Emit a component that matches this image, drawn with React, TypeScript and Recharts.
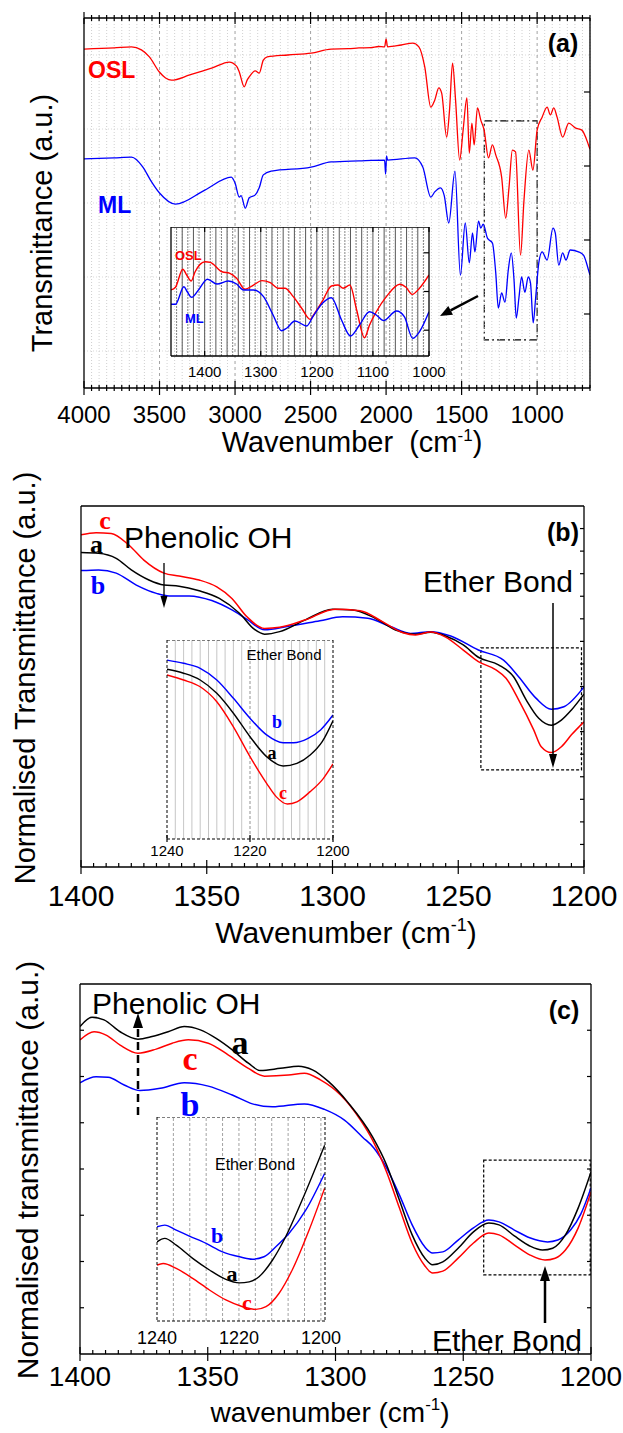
import { LineChart, Line, XAxis, YAxis, ReferenceLine, ReferenceArea } from 'recharts';

const SANS = "'Liberation Sans', Arial, Helvetica, sans-serif";
const SERIF = "'Liberation Serif', 'Times New Roman', Times, serif";
const RED = '#ff0000';
const BLUE = '#0000ff';
const BLACK = '#000000';

// ---- panel (a): full FTIR spectra, [wavenumber, transmittance a.u.]
const oslA = [
  [4000, 91.6], [3800, 91.9], [3686, 92.2], [3620, 91.4], [3567, 89.5], [3501, 85.4], [3460, 83.8], [3421, 83.2],
  [3300, 84.6], [3150, 86.5], [3038, 88.1], [2990, 87.0], [2972, 85.4], [2939, 81.4], [2920, 83.2], [2906, 84.1],
  [2866, 85.7], [2840, 85.1], [2813, 88.6], [2787, 89.5], [2650, 90.0], [2496, 90.5], [2364, 91.6], [2250, 91.7],
  [2180, 91.9], [2100, 92.0], [2050, 92.3], [2010, 92.2], [2000, 94.3], [1990, 92.2], [1900, 92.7], [1823, 93.2],
  [1783, 92.2], [1744, 86.8], [1704, 75.9], [1678, 77.8], [1651, 81.1], [1632, 79.7], [1599, 67.8], [1580, 75.1],
  [1560, 87.8], [1540, 77.8], [1513, 61.6], [1490, 69.7], [1465, 78.4], [1449, 63.5], [1432, 71.6], [1417, 65.7],
  [1395, 75.7], [1373, 72.4], [1351, 69.7], [1322, 62.2], [1296, 65.7], [1274, 63.0], [1235, 57.0], [1208, 45.9],
  [1186, 54.3], [1164, 64.3], [1143, 63.8], [1110, 35.9], [1087, 50.8], [1055, 64.3], [1028, 58.9], [1000, 69.7],
  [967, 73.2], [934, 75.9], [912, 73.8], [890, 75.7], [868, 73.2], [831, 67.8], [791, 71.6], [748, 70.3],
  [704, 69.7], [660, 65.7], [650, 64.5],
];
const mlA = [
  [4000, 61.9], [3800, 62.2], [3686, 62.4], [3610, 59.7], [3560, 56.2], [3500, 52.7], [3394, 49.7], [3200, 53.5],
  [3025, 57.0], [3000, 55.4], [2972, 51.6], [2960, 52.0], [2932, 48.6], [2906, 51.4], [2866, 52.2], [2840, 54.1],
  [2813, 57.6], [2761, 58.6], [2497, 59.7], [2364, 61.1], [2180, 61.4], [2010, 61.6], [2003, 57.8], [1997, 62.7],
  [1990, 61.6], [1810, 62.2], [1757, 59.7], [1704, 51.6], [1678, 53.0], [1640, 54.1], [1615, 52.0], [1585, 44.6],
  [1544, 58.6], [1508, 30.5], [1476, 44.6], [1449, 33.8], [1428, 41.9], [1412, 36.8], [1388, 45.1], [1373, 43.2],
  [1357, 44.3], [1329, 40.5], [1296, 39.2], [1274, 31.1], [1257, 21.6], [1235, 25.7], [1213, 23.2], [1191, 31.9],
  [1171, 36.5], [1153, 29.2], [1138, 18.9], [1120, 24.6], [1103, 30.0], [1081, 25.9], [1059, 30.0], [1044, 28.4],
  [1026, 17.6], [1011, 23.8], [989, 33.8], [967, 36.8], [934, 34.6], [895, 43.2], [880, 41.9], [857, 33.2],
  [831, 36.5], [809, 34.6], [781, 37.3], [726, 36.8], [693, 35.9], [660, 31.9], [650, 30.5],
];
const oslInset = [
  [1460, 51.2], [1452, 53.3], [1439, 67.2], [1432, 62.8], [1424, 58.1], [1417, 65.3], [1399, 73.1], [1390, 72.6],
  [1369, 65.3], [1355, 64.1], [1343, 60.2], [1328, 51.7], [1313, 55.0], [1298, 58.4], [1283, 56.8], [1269, 52.5],
  [1257, 52.5], [1242, 46.0], [1227, 37.0], [1212, 28.4], [1204, 33.1], [1189, 43.4], [1174, 54.3], [1162, 55.0],
  [1153, 52.5], [1141, 55.0], [1129, 35.7], [1115, 14.2], [1106, 24.0], [1094, 34.3], [1076, 46.0], [1052, 55.6],
  [1041, 53.3], [1030, 47.8], [1017, 52.5], [1000, 62.8],
];
const mlInset = [
  [1460, 40.1], [1452, 40.1], [1437, 53.7], [1431, 49.8], [1423, 45.5], [1411, 51.2], [1395, 59.5], [1378, 55.8],
  [1358, 58.1], [1343, 55.8], [1331, 51.2], [1313, 51.2], [1295, 46.0], [1278, 31.8], [1263, 19.6], [1254, 21.5],
  [1239, 27.1], [1218, 23.3], [1207, 30.5], [1190, 40.9], [1174, 45.2], [1156, 27.9], [1140, 15.5], [1124, 24.0],
  [1106, 34.3], [1094, 31.8], [1081, 27.4], [1058, 34.9], [1044, 30.5], [1029, 13.7], [1017, 18.8], [1000, 34.3],
];

// ---- panel (b): normalised spectra a / b / c, 1400-1200
const redB = [
  [1400, 92.0], [1394, 92.6], [1388, 92.4], [1381, 89.2], [1375, 85.0], [1367, 81.4], [1361, 80.6], [1353, 79.5],
  [1346, 77.6], [1340, 74.4], [1334, 69.3], [1327, 66.1], [1321, 66.4], [1311, 68.4], [1299, 71.4], [1289, 71.0],
  [1280, 67.9], [1272, 64.9], [1267, 64.3], [1261, 65.1], [1255, 63.7], [1248, 60.1], [1242, 56.9], [1235, 54.6],
  [1231, 52.3], [1226, 46.3], [1220, 38.0], [1217, 33.3], [1213, 31.7], [1209, 33.3], [1205, 36.6], [1200, 40.2],
];
const blackB = [
  [1400, 87.1], [1393, 86.9], [1386, 85.5], [1380, 82.3], [1373, 79.5], [1367, 78.1], [1361, 77.8], [1353, 76.5],
  [1345, 74.4], [1337, 70.3], [1331, 65.8], [1327, 64.5], [1321, 65.2], [1311, 68.4], [1300, 71.4], [1292, 71.2],
  [1283, 68.9], [1274, 65.4], [1267, 64.5], [1261, 65.0], [1255, 64.0], [1248, 61.5], [1242, 58.1], [1234, 56.0],
  [1228, 52.7], [1223, 46.3], [1218, 41.2], [1213, 39.3], [1209, 40.7], [1205, 43.5], [1200, 47.9],
];
const blueB = [
  [1400, 82.1], [1393, 82.3], [1386, 81.4], [1378, 78.1], [1370, 75.8], [1365, 75.1], [1357, 75.1], [1348, 73.8],
  [1340, 71.2], [1334, 68.6], [1327, 65.7], [1318, 66.6], [1305, 68.2], [1296, 69.3], [1286, 68.9], [1277, 66.6],
  [1269, 64.7], [1261, 65.2], [1253, 64.0], [1242, 60.1], [1232, 57.3], [1226, 52.7], [1219, 46.7], [1213, 43.7],
  [1208, 44.4], [1200, 49.9],
];
const blueBInset = [
  [1240, 89.9], [1236, 88.3], [1232, 85.8], [1228, 79.9], [1224, 70.7], [1220, 60.7], [1216, 52.3], [1212, 48.4],
  [1209.5, 48.4], [1206, 50.6], [1203, 54.8], [1200, 62.3],
];
const blackBInset = [
  [1240, 85.3], [1236, 83.3], [1232, 79.9], [1228, 73.2], [1224, 63.2], [1220, 51.4], [1216, 41.4], [1212, 36.7],
  [1208.7, 38.0], [1205.5, 42.2], [1202.6, 48.9], [1200, 59.4],
];
const redBInset = [
  [1240, 82.4], [1236, 79.9], [1232, 76.5], [1228, 69.0], [1224, 56.4], [1220, 41.4], [1216, 28.0], [1213.7, 21.3],
  [1211, 17.6], [1208.7, 18.7], [1205.5, 23.8], [1202.3, 30.5], [1200, 37.7],
];

// ---- panel (c)
const blackC = [
  [1400, 88.5], [1395.3, 91.0], [1390.6, 90.3], [1384.3, 87.1], [1377.3, 85.1], [1371.8, 85.8], [1365.5, 87.1],
  [1359.2, 88.5], [1352.9, 87.6], [1346.7, 85.3], [1340.4, 82.2], [1334.1, 78.6], [1329.4, 76.6], [1321.6, 77.2],
  [1314.5, 77.8], [1309, 76.8], [1302.7, 73.6], [1294.9, 67.8], [1285.5, 58.7], [1280, 51.1], [1275, 41.6],
  [1270, 32.2], [1265, 25.9], [1262, 24.1], [1258, 24.9], [1252, 28.6], [1246, 33.0], [1240, 35.4], [1236, 34.9],
  [1230, 31.9], [1224, 29.2], [1219, 28.1], [1215, 28.6], [1210, 32.2], [1205, 39.5], [1200, 49.2],
];
const redC = [
  [1400, 84.9], [1394.5, 87.1], [1389.8, 86.2], [1384.3, 83.5], [1377.3, 81.3], [1370.2, 82.4], [1363.9, 84.0],
  [1357.6, 84.9], [1349.8, 84.0], [1341.9, 80.8], [1334.1, 77.2], [1327.8, 75.1], [1318.4, 75.4], [1312.2, 75.9],
  [1305.9, 74.1], [1298, 70.0], [1290.2, 63.2], [1285.5, 57.8], [1280, 49.2], [1275, 39.5], [1270, 30.0],
  [1265, 23.8], [1262, 21.9], [1258, 22.4], [1252, 25.9], [1246, 30.0], [1240, 32.7], [1236, 32.2], [1230, 29.5],
  [1224, 26.8], [1218, 25.4], [1214, 25.9], [1210, 28.1], [1205, 34.1], [1200, 43.8],
];
const blueC = [
  [1400, 73.3], [1393.7, 74.9], [1389, 74.8], [1382.7, 72.7], [1376.5, 71.2], [1368.6, 71.8], [1359.2, 73.3],
  [1349.8, 72.4], [1340.4, 70.0], [1332.5, 67.6], [1324.7, 66.8], [1312.2, 67.6], [1304.3, 66.1], [1296.5, 63.2],
  [1289.4, 58.6], [1285, 55.7], [1280, 50.3], [1275, 43.0], [1270, 34.9], [1265, 28.9], [1262, 27.3], [1258, 27.6],
  [1252, 30.8], [1246, 34.1], [1240, 36.2], [1236, 35.7], [1230, 33.5], [1224, 31.4], [1217, 30.3], [1213, 30.8],
  [1208, 33.5], [1204, 37.8], [1200, 44.9],
];
const blueCInset = [
  [1240, 46.2], [1238.1, 47.0], [1235.3, 44.5], [1232.1, 41.6], [1228, 38.0], [1224, 33.9], [1219.9, 31.5],
  [1216.7, 30.3], [1213.9, 31.5], [1211, 36.4], [1207.8, 42.9], [1203.7, 54.3], [1199.1, 72.3],
];
const blackCInset = [
  [1240, 38.8], [1238.1, 40.5], [1235.3, 37.2], [1231.3, 30.7], [1227.2, 25.0], [1223.2, 20.4], [1219.9, 18.7],
  [1217.5, 19.2], [1215.1, 21.7], [1211.8, 29.9], [1208.6, 41.3], [1204.6, 59.2], [1199.1, 86.1],
];
const redCInset = [
  [1240, 27.4], [1238.5, 28.2], [1235.3, 25.8], [1231.3, 20.9], [1227.2, 15.2], [1223.2, 10.3], [1219.1, 7.0],
  [1215.9, 5.7], [1213.4, 7.0], [1210.2, 13.6], [1207, 25.0], [1202.9, 44.5], [1199.1, 65.0],
];

// ---- ticks
const majorsA = [4000, 3500, 3000, 2500, 2000, 1500, 1000];
const majorsBC = [1400, 1350, 1300, 1250, 1200];
const insetATicks = [1400, 1300, 1200, 1100, 1000];
const insetBCTicks = [1240, 1220, 1200];

const range = (from: number, to: number, step: number) => {
  const out: number[] = [];
  for (let v = from; v >= to - 1e-9; v -= step) out.push(Math.round(v * 1000) / 1000);
  return out;
};
const minorA = range(4000, 650, 50);
const minorBC = range(1400, 1200, 5);
const pts = (a: number[][]) => a.map(([w, v]) => ({ w, v }));

const frame = { stroke: BLACK, strokeWidth: 1.3 };
const dashFrame = { stroke: BLACK, strokeWidth: 1, strokeDasharray: '3 2' };

type XT = { majors: number[]; top?: boolean; majIn: number; majOut: number; minIn: number; minOut: number; fs?: number; off?: number };
const xTick = (o: XT) => (p: any) => {
  const v = p.payload.value;
  const major = o.majors.includes(v);
  const a = major ? o.majIn : o.minIn;
  const b = major ? o.majOut : o.minOut;
  const s = o.top ? 1 : -1;
  return (
    <g>
      {a + b > 0 && <line x1={p.x} x2={p.x} y1={p.y + s * a} y2={p.y - s * b} stroke={BLACK} strokeWidth={1.2} />}
      {major && o.fs && (
        <text x={p.x} y={p.y + (o.off ?? 0) + o.fs * 0.35} textAnchor="middle" fontSize={o.fs} fontFamily={SANS} fill={BLACK}>
          {v}
        </text>
      )}
    </g>
  );
};
const yTick = (len: number, right: boolean) => (p: any) => (
  <line x1={p.x} x2={p.x + (right ? -len : len)} y1={p.y} y2={p.y} stroke={BLACK} strokeWidth={1.2} />
);

// axes are 1px thick (a 0px axis is not drawn), margins are reduced by that pixel
const xBase = { type: 'number' as const, dataKey: 'w', reversed: true, allowDataOverflow: true, interval: 0 as const, tickLine: false, tickSize: 0, tickMargin: 0, height: 1 };
const yBase = { type: 'number' as const, domain: [0, 100], allowDataOverflow: true, interval: 0 as const, tickLine: false, tickSize: 0, tickMargin: 0, width: 1 };

const line = (data: number[][], color: string, w: number, key: string) => (
  <Line key={key} data={pts(data)} dataKey="v" type="monotone" stroke={color} strokeWidth={w} dot={false} isAnimationActive={false} />
);

function Arrow({ x1, y1, x2, y2, w = 1.5, head = 12, half = 4, dash }: { x1: number; y1: number; x2: number; y2: number; w?: number; head?: number; half?: number; dash?: string }) {
  const dx = x2 - x1;
  const dy = y2 - y1;
  const L = Math.hypot(dx, dy);
  const ux = dx / L;
  const uy = dy / L;
  const bx = x2 - ux * head;
  const by = y2 - uy * head;
  const px = -uy * half;
  const py = ux * half;
  return (
    <g>
      <line x1={x1} y1={y1} x2={bx} y2={by} stroke={BLACK} strokeWidth={w} strokeDasharray={dash} />
      <polygon points={`${x2},${y2} ${bx + px},${by + py} ${bx - px},${by - py}`} fill={BLACK} />
    </g>
  );
}

function Txt({ x, y, fs, children, anchor = 'start', bold, color = BLACK, family = SANS, rotate }: any) {
  if (rotate) {
    return (
      <text transform={`translate(${x},${y}) rotate(-90)`} y={fs * 0.35} textAnchor="middle" fontSize={fs} fontFamily={family} fill={color} fontWeight={bold ? 'bold' : 'normal'}>
        {children}
      </text>
    );
  }
  return (
    <text x={x} y={y + fs * 0.35} textAnchor={anchor} fontSize={fs} fontFamily={family} fill={color} fontWeight={bold ? 'bold' : 'normal'} style={{ whiteSpace: 'pre' }}>
      {children}
    </text>
  );
}

function PanelA() {
  return (
    <LineChart width={623} height={470} margin={{ top: 17, right: 32, bottom: 81, left: 83 }}>
      <XAxis {...xBase} domain={[650, 4000]} ticks={minorA} axisLine={frame}
        tick={xTick({ majors: majorsA, majIn: 7, majOut: 7, minIn: 3, minOut: 3, fs: 24, off: 27 })} />
      <XAxis {...xBase} xAxisId="t" orientation="top" domain={[650, 4000]} ticks={minorA} axisLine={frame}
        tick={xTick({ majors: majorsA, top: true, majIn: 6, majOut: 6, minIn: 3, minOut: 3 })} />
      <YAxis {...yBase} tick={false} axisLine={frame} />
      <YAxis {...yBase} yAxisId="r" orientation="right" ticks={[20, 40, 60, 80]} axisLine={frame} tick={yTick(6, true)} />
      {minorA.filter((v) => !majorsA.includes(v) && v !== 4000).map((v) => (
        <ReferenceLine key={`m${v}`} x={v} stroke="#c4c4c4" strokeWidth={0.8} strokeDasharray="1 2" />
      ))}
      {[10, 30, 50, 70, 90].map((v) => (
        <ReferenceLine key={`h${v}`} y={v} stroke="#cfcfcf" strokeWidth={0.8} strokeDasharray="1 2" />
      ))}
      {majorsA.slice(1).map((v) => (
        <ReferenceLine key={`M${v}`} x={v} stroke="#8a8a8a" strokeWidth={0.8} strokeDasharray="3 3" />
      ))}
      <ReferenceArea x1={1350} x2={1000} y1={13} y2={72.2} fill="none" stroke={BLACK} strokeWidth={1.1} strokeDasharray="8 3 2 3" />
      {line(oslA, RED, 1.3, 'osl')}
      {line(mlA, BLUE, 1.3, 'ml')}
    </LineChart>
  );
}

// insets get 20px of side room so their end tick labels are not cut off
function InsetA() {
  const grid = range(1450, 1010, 10);
  return (
    <LineChart width={298} height={159} margin={{ top: -1, right: 19, bottom: 29, left: 19 }}>
      <XAxis {...xBase} domain={[1000, 1460]} ticks={insetATicks} axisLine={frame}
        tick={xTick({ majors: insetATicks, majIn: 5, majOut: 0, minIn: 0, minOut: 0, fs: 15, off: 16 })} />
      <XAxis {...xBase} xAxisId="t" orientation="top" domain={[1000, 1460]} ticks={insetATicks} axisLine={frame}
        tick={xTick({ majors: insetATicks, top: true, majIn: 5, majOut: 0, minIn: 0, minOut: 0 })} />
      <YAxis {...yBase} tick={false} axisLine={frame} />
      <YAxis {...yBase} yAxisId="r" orientation="right" ticks={[20, 50, 80]} axisLine={frame} tick={yTick(5, true)} />
      {grid.map((v) => (
        <ReferenceLine key={v} x={v} stroke={v % 20 === 0 ? '#444' : '#777'} strokeWidth={0.9} strokeDasharray={v % 20 === 0 ? undefined : '2 1'} />
      ))}
      {line(oslInset, RED, 1.4, 'osl')}
      {line(mlInset, BLUE, 1.4, 'ml')}
    </LineChart>
  );
}

function PanelB() {
  return (
    <LineChart width={623} height={500} margin={{ top: 45, right: 38, bottom: 92, left: 80 }}>
      <XAxis {...xBase} domain={[1200, 1400]} ticks={minorBC} axisLine={frame}
        tick={xTick({ majors: majorsBC, majIn: 7, majOut: 7, minIn: 4, minOut: 0, fs: 30, off: 28 })} />
      <XAxis {...xBase} xAxisId="t" orientation="top" domain={[1200, 1400]} tick={false} axisLine={frame} />
      <YAxis {...yBase} tick={false} axisLine={frame} />
      <YAxis {...yBase} yAxisId="r" orientation="right" ticks={range(93.75, 6.25, 6.25)} axisLine={frame} tick={yTick(4, true)} />
      <ReferenceArea x1={1241} x2={1201} y1={26.9} y2={60.7} fill="none" stroke={BLACK} strokeWidth={1.2} strokeDasharray="3 2" />
      {line(blueB, BLUE, 1.5, 'b')}
      {line(blackB, BLACK, 1.5, 'a')}
      {line(redB, RED, 1.5, 'c')}
    </LineChart>
  );
}

function InsetB() {
  const grid = range(1238, 1202, 2);
  return (
    <LineChart width={206} height={224} margin={{ top: -1, right: 19, bottom: 24, left: 19 }}>
      <XAxis {...xBase} domain={[1200, 1240]} ticks={insetBCTicks} axisLine={dashFrame}
        tick={xTick({ majors: insetBCTicks, majIn: 4, majOut: 3, minIn: 0, minOut: 0, fs: 15, off: 12 })} />
      <XAxis {...xBase} xAxisId="t" orientation="top" domain={[1200, 1240]} tick={false} axisLine={dashFrame} />
      <YAxis {...yBase} tick={false} axisLine={dashFrame} />
      <YAxis {...yBase} yAxisId="r" orientation="right" tick={false} axisLine={dashFrame} />
      {grid.map((v) => (
        <ReferenceLine key={v} x={v} stroke={v === 1220 ? '#777' : '#b8b8b8'} strokeWidth={0.8} strokeDasharray={v === 1220 ? '3 2' : undefined} />
      ))}
      {line(blueBInset, BLUE, 1.4, 'b')}
      {line(blackBInset, BLACK, 1.4, 'a')}
      {line(redBInset, RED, 1.4, 'c')}
    </LineChart>
  );
}

function PanelC() {
  const side = [12.5, 25, 37.5, 50, 62.5, 75, 87.5];
  return (
    <LineChart width={623} height={473} margin={{ top: 23, right: 31, bottom: 78, left: 79 }}>
      <XAxis {...xBase} domain={[1200, 1400]} ticks={minorBC} axisLine={frame}
        tick={xTick({ majors: majorsBC, majIn: 7, majOut: 7, minIn: 4, minOut: 0, fs: 28, off: 22 })} />
      <XAxis {...xBase} xAxisId="t" orientation="top" domain={[1200, 1400]} tick={false} axisLine={frame} />
      <YAxis {...yBase} ticks={side} axisLine={frame} tick={yTick(4, false)} />
      <YAxis {...yBase} yAxisId="r" orientation="right" ticks={side} axisLine={frame} tick={yTick(4, true)} />
      <ReferenceArea x1={1242} x2={1200.3} y1={21.4} y2={52.4} fill="none" stroke={BLACK} strokeWidth={1.2} strokeDasharray="3 2" />
      {line(blueC, BLUE, 1.5, 'b')}
      {line(redC, RED, 1.5, 'c')}
      {line(blackC, BLACK, 1.5, 'a')}
    </LineChart>
  );
}

function InsetC() {
  const grid = range(1236, 1200, 4);
  return (
    <LineChart width={208} height={234} margin={{ top: -1, right: 19, bottom: 29, left: 19 }}>
      <XAxis {...xBase} domain={[1199, 1240]} ticks={insetBCTicks} axisLine={dashFrame}
        tick={xTick({ majors: insetBCTicks, majIn: 0, majOut: 0, minIn: 0, minOut: 0, fs: 18, off: 17 })} />
      <XAxis {...xBase} xAxisId="t" orientation="top" domain={[1199, 1240]} tick={false} axisLine={dashFrame} />
      <YAxis {...yBase} tick={false} axisLine={dashFrame} />
      <YAxis {...yBase} yAxisId="r" orientation="right" tick={false} axisLine={dashFrame} />
      {grid.map((v) => (
        <ReferenceLine key={v} x={v} stroke="#8c8c8c" strokeWidth={0.8} strokeDasharray="3 2" />
      ))}
      {line(blueCInset, BLUE, 1.4, 'b')}
      {line(blackCInset, BLACK, 1.4, 'a')}
      {line(redCInset, RED, 1.4, 'c')}
    </LineChart>
  );
}

const at = (left: number, top: number) => ({ position: 'absolute' as const, left, top });

export default function App() {
  return (
    <div style={{ position: 'absolute', left: 0, top: 0, width: 623, height: 1433, background: '#fff', overflow: 'hidden' }}>
      <div style={at(0, 0)}><PanelA /></div>
      <div style={at(0, 460)}><PanelB /></div>
      <div style={at(0, 960)}><PanelC /></div>
      <div style={at(151, 227)}><InsetA /></div>
      <div style={at(147, 640)}><InsetB /></div>
      <div style={at(137, 1117)}><InsetC /></div>
      <svg width={623} height={1433} style={{ position: 'absolute', left: 0, top: 0, pointerEvents: 'none' }}>
        {/* panel (a) */}
        <Txt x={42} y={223} fs={29} rotate>Transmittance (a.u.)</Txt>
        <Txt x={352} y={442} fs={29} anchor="middle">
          {'Wavenumber  (cm'}<tspan dy={-11} fontSize={17}>-1</tspan><tspan dy={11}>)</tspan>
        </Txt>
        <Txt x={563} y={43} fs={25} anchor="middle" bold>(a)</Txt>
        <Txt x={88} y={70} fs={23} bold color={RED}>OSL</Txt>
        <Txt x={98} y={205} fs={23} bold color={BLUE}>ML</Txt>
        <Txt x={175} y={255} fs={13} bold color={RED}>OSL</Txt>
        <Txt x={185} y={318} fs={13} bold color={BLUE}>ML</Txt>
        <Arrow x1={478} y1={296} x2={440} y2={316} w={2.5} head={12} half={5} />

        {/* panel (b) */}
        <Txt x={25} y={678} fs={29} rotate>Normalised Transmittance (a.u.)</Txt>
        <Txt x={346} y={932} fs={30} anchor="middle">
          {'Wavenumber (cm'}<tspan dy={-12} fontSize={18}>-1</tspan><tspan dy={12}>)</tspan>
        </Txt>
        <Txt x={563} y={532} fs={25} anchor="middle" bold>(b)</Txt>
        <Txt x={124} y={537} fs={30}>Phenolic OH</Txt>
        <Txt x={498} y={581} fs={30} anchor="middle">Ether Bond</Txt>
        <Txt x={105} y={520} fs={26} anchor="middle" bold color={RED} family={SERIF}>c</Txt>
        <Txt x={96.5} y={544} fs={26} anchor="middle" bold color={BLACK} family={SERIF}>a</Txt>
        <Txt x={98} y={585} fs={26} anchor="middle" bold color={BLUE} family={SERIF}>b</Txt>
        <Txt x={284} y={655} fs={15} anchor="middle">Ether Bond</Txt>
        <Txt x={277} y={722} fs={18} anchor="middle" bold color={BLUE} family={SERIF}>b</Txt>
        <Txt x={272} y={753} fs={18} anchor="middle" bold color={BLACK} family={SERIF}>a</Txt>
        <Txt x={283} y={793} fs={18} anchor="middle" bold color={RED} family={SERIF}>c</Txt>
        <Arrow x1={164} y1={563} x2={164} y2={608} w={1.3} head={12} half={3.5} />
        <Arrow x1={553} y1={603} x2={553} y2={768} w={1.5} head={14} half={4} />

        {/* panel (c) */}
        <Txt x={27} y={1170} fs={30} rotate>Normalised transmittance (a.u.)</Txt>
        <Txt x={330} y={1412} fs={28} anchor="middle">
          {'wavenumber (cm'}<tspan dy={-12} fontSize={17}>-1</tspan><tspan dy={12}>)</tspan>
        </Txt>
        <Txt x={564} y={1010} fs={25} anchor="middle" bold>(c)</Txt>
        <Txt x={92} y={1003} fs={30}>Phenolic OH</Txt>
        <Txt x={507} y={1340} fs={30} anchor="middle">Ether Bond</Txt>
        <Txt x={240} y={1042} fs={34} anchor="middle" bold color={BLACK} family={SERIF}>a</Txt>
        <Txt x={190} y={1058} fs={34} anchor="middle" bold color={RED} family={SERIF}>c</Txt>
        <Txt x={190} y={1104} fs={34} anchor="middle" bold color={BLUE} family={SERIF}>b</Txt>
        <Txt x={255} y={1164} fs={16} anchor="middle">Ether Bond</Txt>
        <Txt x={217} y={1235} fs={22} anchor="middle" bold color={BLUE} family={SERIF}>b</Txt>
        <Txt x={232} y={1273} fs={22} anchor="middle" bold color={BLACK} family={SERIF}>a</Txt>
        <Txt x={247} y={1302} fs={22} anchor="middle" bold color={RED} family={SERIF}>c</Txt>
        <Arrow x1={138} y1={1115} x2={138} y2={1013} w={2.5} head={15} half={5} dash="8 5" />
        <Arrow x1={545} y1={1323} x2={545} y2={1266} w={2.5} head={15} half={5} />
      </svg>
    </div>
  );
}
